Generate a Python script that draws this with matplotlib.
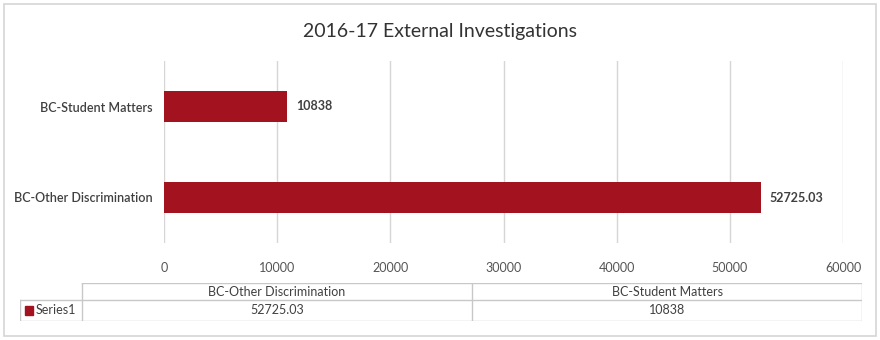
import matplotlib.pyplot as plt
from matplotlib.patches import Rectangle

categories = ["BC-Other Discrimination", "BC-Student Matters"]
values = [52725.03, 10838]
series_name = "Series1"
xticks = [0, 10000, 20000, 30000, 40000, 50000, 60000]

W, H = 880, 340
bar_color = "#A3131F"
grid_color = "#D6D6D6"
text_color = "#404040"

plt.rcParams["font.family"] = ["Lato", "DejaVu Sans"]


def fmt(v):
    return f"{v:.2f}".rstrip("0").rstrip(".")


def px(x0, y0, x1, y1):
    # pixel box (top-left origin) -> figure fraction [left, bottom, w, h]
    return [x0 / W, 1 - y1 / H, (x1 - x0) / W, (y1 - y0) / H]


fig = plt.figure(figsize=(W / 100, H / 100), dpi=100)

# outer chart border
fig.patches.append(Rectangle((4 / W, 4 / H), (W - 8) / W, (H - 8) / H,
                             transform=fig.transFigure, fill=False,
                             edgecolor="#D6D6D6", linewidth=1.2))

fig.text(0.5, 1 - 32 / H, "2016-17 External Investigations", ha="center",
         va="center", fontsize=14, color="#333333")

ax = fig.add_axes(px(164, 61, 843, 243))
ypos = list(range(len(categories)))
ax.barh(ypos, values, height=0.35, color=bar_color, zorder=3)
for y, v in zip(ypos, values):
    ax.text(v + 800, y, fmt(v), va="center", ha="left", fontsize=9,
            fontweight="bold", color=text_color)

ax.set_xlim(0, 60000)
ax.set_ylim(-0.5, 1.5)
ax.set_xticks(xticks)
ax.set_xticklabels([str(t) for t in xticks], fontsize=9, color="#555555")
ax.set_yticks(ypos)
ax.set_yticklabels(categories, fontsize=9, fontweight="semibold",
                   color=text_color)
ax.tick_params(axis="x", length=0, pad=14)
ax.tick_params(axis="y", length=0, pad=8)
ax.grid(axis="x", color=grid_color, linewidth=1.0, zorder=0)
for s in ax.spines.values():
    s.set_visible(False)

# data table under the chart
tab = fig.add_axes(px(20, 283, 862, 321))
tab.set_xlim(20, 862)
tab.set_ylim(321, 283)
tab.axis("off")
lc = "#C8C8C8"
col_left = 82
col_w = (862 - col_left) / len(categories)
tab.plot([col_left, 862], [283, 283], color=lc, lw=1)
tab.plot([20, 862], [300, 300], color=lc, lw=1)
tab.plot([20, 862], [321, 321], color=lc, lw=1)
tab.plot([20, 20], [300, 321], color=lc, lw=1)
for i in range(len(categories) + 1):
    x = col_left + i * col_w
    tab.plot([x, x], [283, 321], color=lc, lw=1)
for i, (c, v) in enumerate(zip(categories, values)):
    xc = col_left + (i + 0.5) * col_w
    tab.text(xc, 291.5, c, ha="center", va="center", fontsize=9,
             color=text_color)
    tab.text(xc, 310.5, fmt(v), ha="center", va="center", fontsize=9,
             color=text_color)
tab.add_patch(Rectangle((25, 306), 8, 9, color=bar_color))
tab.text(36, 310.5, series_name, ha="left", va="center", fontsize=9,
         color=text_color)

fig.savefig("out.png", dpi=100)
